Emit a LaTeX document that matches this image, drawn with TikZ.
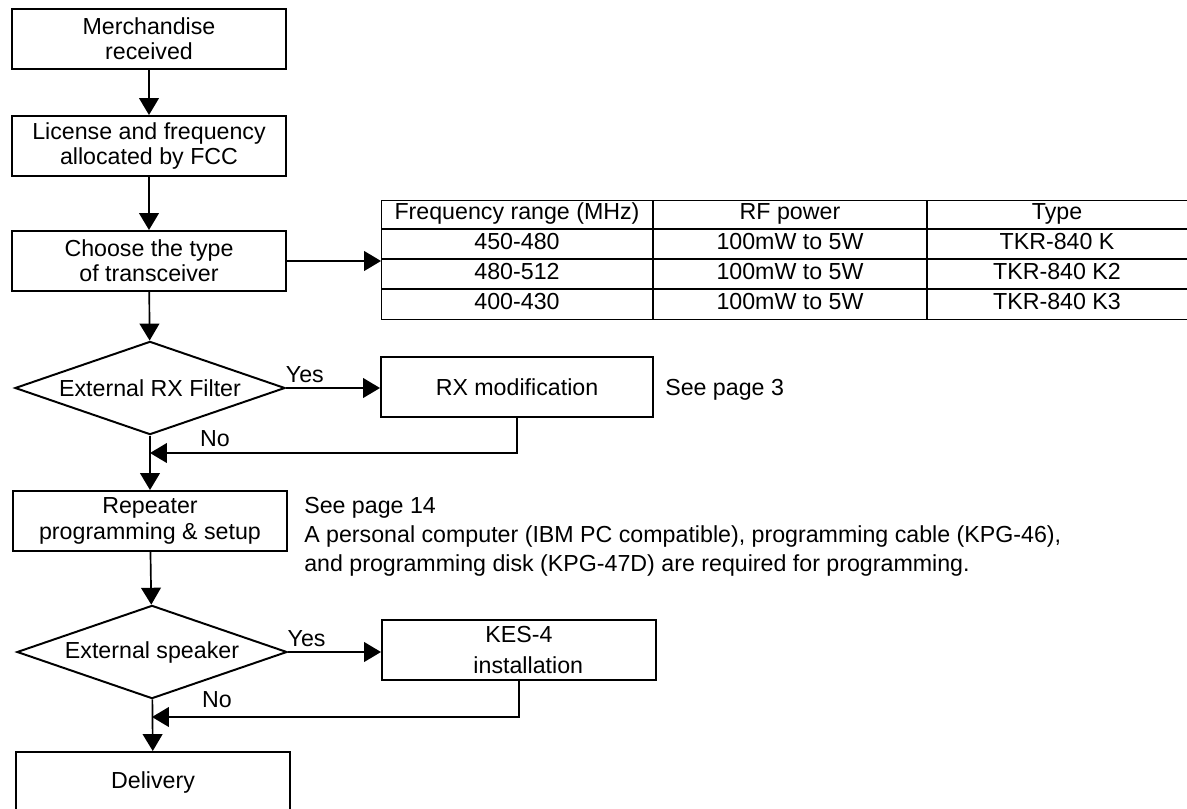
\documentclass[tikz,border=0pt]{standalone}
\usepackage{fontspec}
\setmainfont{Liberation Sans}
\usetikzlibrary{shapes,arrows,positioning,calc,arrows.meta}

\begin{document}
\begin{tikzpicture}[x=0.025cm, y=-0.025cm, font=\fontsize{16.5}{18}\selectfont,
    box/.style={draw, line width=1.4pt, minimum width=6.85cm, minimum height=1.5cm, align=center, inner sep=0pt},
    decision/.style={draw, diamond, aspect=2.9, line width=1.4pt, minimum width=6.75cm, minimum height=2.33cm, inner sep=0pt},
    flow/.style={line width=1.2pt, -{Triangle[length=12pt,width=14pt]}},
    grid/.style={line width=1pt},
    cell/.style={text height=0.72em, text depth=0pt, inner sep=0pt}]
    \path[use as bounding box] (0,0) rectangle (1187,808);
    \clip (0,0) rectangle (1187,808);

    % Main column
    \node[box] (merch) at (149,39) {Merchandise\\received};
    \node[box] (lic) at (149,146) {License and frequency\\allocated by FCC};
    \node[box] (choose) at (149,261) {Choose the type\\of transceiver};
    \node[decision] (rxf) at (150,388) {External RX Filter};
    \node[box] (rep) at (150,521) {Repeater\\programming \& setup};
    \node[decision] (spk) at (152,652) {External speaker};
    \node[box] (deliv) at (153,782) {Delivery};

    % Side boxes
    \node[box, minimum width=6.8cm] (rxmod) at (517,387) {RX modification};
    \node[box] (kes) at (519,650) {KES-4\\[4pt]\hspace*{0.8em}installation};
    \node[anchor=west, inner sep=0pt] (see3) at (665,390) {See page 3};
    \node[anchor=north west, align=left, inner sep=0pt, font=\fontsize{16.5}{20.8}\selectfont] (see14) at (304,497)
        {See page 14\\A personal computer (IBM PC compatible), programming cable (KPG-46),\\and programming disk (KPG-47D) are required for programming.};

    % Frequency table
    \node[draw, grid, anchor=north west, minimum width=21.5cm, minimum height=2.975cm, inner sep=0pt] (tbl) at (381,200) {};
    \foreach \y in {229,259,289} \draw[grid] (381,\y) -- (1240,\y);
    \foreach \x in {653,927} \draw[grid] (\x,200) -- (\x,319);
    \foreach \f/\p/\t [count=\r from 0] in {Frequency range (MHz)/RF power/Type, 450-480/100mW to 5W/TKR-840 K,
        480-512/100mW to 5W/TKR-840 K2, 400-430/100mW to 5W/TKR-840 K3} {
        \node[cell] (freq\r) at (517,{214+30*\r}) {\f};
        \node[cell] (pow\r) at (790,{214+30*\r}) {\p};
        \node[cell] (type\r) at (1057,{214+30*\r}) {\t};
    }

    % Connectors
    \coordinate (j1) at (150,453);
    \coordinate (j2) at (152,717);
    \draw[flow] (merch) -- (lic);
    \draw[flow] (lic) -- (choose);
    \draw[flow] (choose.east) -- (choose.east -| tbl.west);
    \draw[flow] (choose) -- (rxf);
    \draw[flow] (rxf.east) -- node[pos=0.2, above] (yes1) {Yes} (rxf.east -| rxmod.west);
    \draw[flow] (rxmod.south) |- (j1);
    \draw[flow] (rxf) -- (rep);
    \node (no1) at (215,439) {No};
    \draw[flow] (rep) -- (spk);
    \draw[flow] (spk.east) -- node[pos=0.2, above] (yes2) {Yes} (spk.east -| kes.west);
    \draw[flow] (kes.south) |- (j2);
    \draw[flow] (spk) -- (deliv);
    \node (no2) at (217,700) {No};
\end{tikzpicture}
\end{document}
